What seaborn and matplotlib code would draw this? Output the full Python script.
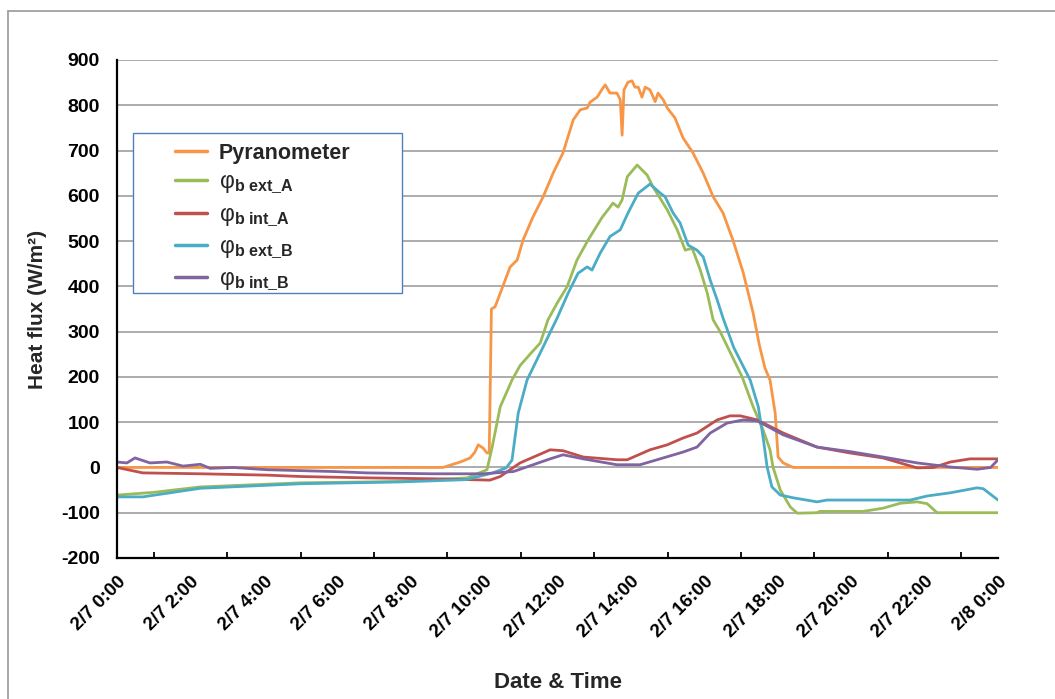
import numpy as np
import pandas as pd
import matplotlib
matplotlib.use("Agg")
import matplotlib.pyplot as plt
import seaborn as sns
from matplotlib.lines import Line2D
from matplotlib.patches import Rectangle
from matplotlib.ticker import MultipleLocator, FixedLocator

# ---------------- data (hours since 2/7 0:00, W/m2) ----------------
pyr_t = [0, 8.88, 9.35, 9.62, 9.75, 9.84, 9.97, 10.08, 10.14, 10.2, 10.3, 10.44, 10.71, 10.9, 11.06, 11.33,
         11.61, 11.88, 12.15, 12.43, 12.62, 12.81, 12.89, 13.08, 13.22, 13.3, 13.43, 13.62, 13.71,
         13.76, 13.81, 13.92, 14.03, 14.11, 14.2, 14.3, 14.39, 14.52, 14.66, 14.74, 14.88, 14.99,
         15.2, 15.42, 15.69, 15.97, 16.24, 16.51, 16.78, 17.06, 17.33, 17.5, 17.65, 17.79, 17.93,
         18.01, 18.15, 18.42, 24.0]
pyr_v = [0, 0, 12, 21, 34, 50, 43, 32, 32, 350, 355, 385, 443, 458, 502, 553,
         598, 650, 695, 768, 790, 794, 807, 818, 836, 845, 827, 827, 812,
         734, 834, 851, 854, 840, 840, 818, 840, 834, 808, 827, 812, 794,
         772, 728, 695, 650, 598, 562, 502, 430, 341, 270, 220, 193, 120,
         23, 10, 0, 0]

extA_t = [0, 1.0, 2.27, 5.0, 7.7, 9.54, 10.08, 10.22, 10.44, 10.76, 10.98, 11.25, 11.53, 11.74, 11.99,
          12.26, 12.53, 12.83, 13.22, 13.43, 13.51, 13.65, 13.76, 13.9, 14.17, 14.44, 14.6, 14.99,
          15.26, 15.48, 15.67, 15.89, 16.08, 16.24, 16.43, 16.7, 17.03, 17.33, 17.6, 17.79, 17.87,
          18.07, 18.34, 18.53, 19.07, 19.15, 20.33, 20.87, 21.34, 21.8, 22.07, 22.34, 24.0]
extA_v = [-61, -55, -43, -34, -31, -23, -5, 45, 134, 193, 225, 250, 275, 326, 363,
          399, 458, 502, 553, 575, 584, 575, 591, 642, 668, 646, 620, 569,
          525, 480, 484, 436, 385, 326, 300, 255, 200, 134, 83, 39, 1,
          -50, -87, -101, -100, -97, -97, -90, -79, -76, -80, -100, -100]

intA_t = [0, 0.7, 2.27, 4.1, 5.0, 6.8, 8.6, 10.16, 10.44, 10.98, 11.8, 12.15, 12.7, 13.62, 13.9,
          14.52, 14.99, 15.42, 15.8, 16.35, 16.7, 16.98, 17.44, 18.15, 19.07, 19.97, 20.87, 21.8,
          22.24, 22.7, 23.24, 24.0]
intA_v = [0, -12, -14, -17, -20, -23, -25, -28, -20, 10, 39, 37, 23, 17, 17,
          39, 50, 65, 76, 105, 114, 114, 105, 76, 45, 32, 21, -1,
          0, 12, 19, 19]

extB_t = [0, 0.7, 2.27, 5.0, 7.7, 9.5, 10.2, 10.6, 10.76, 10.93, 11.17, 11.99, 12.29, 12.56, 12.81,
          12.94, 13.16, 13.43, 13.71, 13.92, 14.2, 14.52, 14.8, 14.93, 15.15, 15.34, 15.56, 15.8,
          15.97, 16.16, 16.35, 16.51, 16.8, 17.25, 17.47, 17.6, 17.71, 17.84, 18.07, 18.42, 19.07,
          19.34, 21.61, 22.07, 22.7, 23.43, 23.6, 24.0]
extB_v = [-65, -65, -46, -36, -32, -27, -13, -1, 16, 120, 193, 330, 385, 429, 443,
          436, 473, 510, 525, 562, 606, 626, 606, 598, 562, 540, 491, 480,
          465, 414, 370, 330, 265, 193, 134, 67, 1, -43, -61, -67, -76,
          -72, -72, -63, -56, -45, -47, -72]

intB_t = [0, 0.27, 0.49, 0.9, 1.36, 1.8, 2.27, 2.54, 3.16, 4.09, 5.0, 5.9, 6.8, 7.7, 8.6, 9.97,
          10.8, 11.8, 12.15, 12.7, 13.62, 14.25, 14.71, 15.42, 15.8, 16.16, 16.62, 17.06, 17.44,
          18.15, 19.07, 19.97, 20.87, 21.8, 22.7, 23.43, 23.8, 24.0]
intB_v = [12, 10, 21, 10, 12, 3, 7, -2, 0, -5, -7, -9, -12, -13, -14, -14,
          -9, 19, 28, 19, 6, 6, 17, 34, 45, 76, 98, 105, 103,
          72, 45, 35, 23, 10, 1, -4, 0, 17]

series_labels = ["Pyranometer",
                 "φ$_{\\mathbf{b\\ ext\\_A}}$",
                 "φ$_{\\mathbf{b\\ int\\_A}}$",
                 "φ$_{\\mathbf{b\\ ext\\_B}}$",
                 "φ$_{\\mathbf{b\\ int\\_B}}$"]
series_colors = ["#F79646", "#9BBB59", "#C0504D", "#4BACC6", "#8064A2"]

y_ticks = list(range(-200, 1000, 100))
x_ticks = list(range(0, 25, 2))
x_ticklabels = ["2/7 0:00", "2/7 2:00", "2/7 4:00", "2/7 6:00", "2/7 8:00", "2/7 10:00",
                "2/7 12:00", "2/7 14:00", "2/7 16:00", "2/7 18:00", "2/7 20:00",
                "2/7 22:00", "2/8 0:00"]

# ---------------- build frame ----------------
frames = []
for lab, t, v in zip(series_labels,
                     [pyr_t, extA_t, intA_t, extB_t, intB_t],
                     [pyr_v, extA_v, intA_v, extB_v, intB_v]):
    frames.append(pd.DataFrame({"hour": t, "flux": v, "series": lab}))
df = pd.concat(frames, ignore_index=True)

# ---------------- style ----------------
sns.set_theme(style="white")
plt.rcParams["font.family"] = ["Liberation Sans", "DejaVu Sans"]
plt.rcParams["mathtext.fontset"] = "custom"
plt.rcParams["mathtext.rm"] = "Liberation Sans"
plt.rcParams["mathtext.bf"] = "Liberation Sans:bold"
plt.rcParams["mathtext.it"] = "Liberation Sans:italic"

fig = plt.figure(figsize=(10.55, 6.99), dpi=100)
ax = fig.add_axes([117 / 1055, 1 - 558 / 699, (998 - 117) / 1055, (558 - 60) / 699])

for y in y_ticks[1:]:
    ax.axhline(y, color="#a6a6a6", lw=1.3, zorder=0)

sns.lineplot(data=df, x="hour", y="flux", hue="series", hue_order=series_labels,
             palette=dict(zip(series_labels, series_colors)), sort=False,
             estimator=None, lw=2.0, ax=ax, legend=False)

ax.set_xlim(0, 24)
ax.set_ylim(-200, 900)
ax.yaxis.set_major_locator(FixedLocator(y_ticks))
ax.set_yticklabels([str(v) for v in y_ticks], fontsize=14, fontweight="bold")
ax.xaxis.set_major_locator(FixedLocator(x_ticks))
ax.xaxis.set_minor_locator(MultipleLocator(1))
ax.set_xticklabels(x_ticklabels, fontsize=13.5, fontweight="bold", rotation=45,
                   ha="right", va="top", rotation_mode="anchor")

for s in ["top", "right"]:
    ax.spines[s].set_visible(False)
for s in ["left", "bottom"]:
    ax.spines[s].set_color("black")
    ax.spines[s].set_linewidth(1.6)

ax.tick_params(axis="y", which="major", direction="out", length=4.5, width=1.3, pad=8, colors="black")
ax.tick_params(axis="x", which="major", direction="inout", length=8, width=1.3, pad=7, colors="black")
ax.tick_params(axis="x", which="minor", direction="in", length=4, width=1.3, colors="black", bottom=True)

ax.set_xlabel("Date & Time", fontsize=16, fontweight="bold", labelpad=22)
ax.set_ylabel("Heat flux (W/m²)", fontsize=15, fontweight="bold", labelpad=10)

# legend
handles = [Line2D([0], [0], color=c, lw=2.5) for c in series_colors]
leg = ax.legend(handles, series_labels, loc="upper left", frameon=False,
                bbox_to_anchor=((175 - 117) / 881, (558 - 143) / 498),
                fontsize=16.5, handlelength=1.4, handletextpad=0.5, labelspacing=0.28,
                borderaxespad=0, borderpad=0)
for i, t in enumerate(leg.get_texts()):
    if i == 0:
        t.set_fontsize(15.5)
        t.set_fontweight("bold")
ax.add_patch(Rectangle(((133 - 117) / 881, (558 - 293) / 498), 269 / 881, 160 / 498,
                       transform=ax.transAxes, fill=True, facecolor="white",
                       edgecolor="#4F81BD", lw=1.0, zorder=4))
leg.set_zorder(5)

# outer frame
fig.add_artist(Line2D([8 / 1055, 8 / 1055], [0, 1 - 11 / 699], color="#a0a0a0", lw=1.3,
                      transform=fig.transFigure))
fig.add_artist(Line2D([8 / 1055, 1], [1 - 11 / 699, 1 - 11 / 699], color="#a0a0a0", lw=1.3,
                      transform=fig.transFigure))

fig.savefig("out.png", dpi=100)
